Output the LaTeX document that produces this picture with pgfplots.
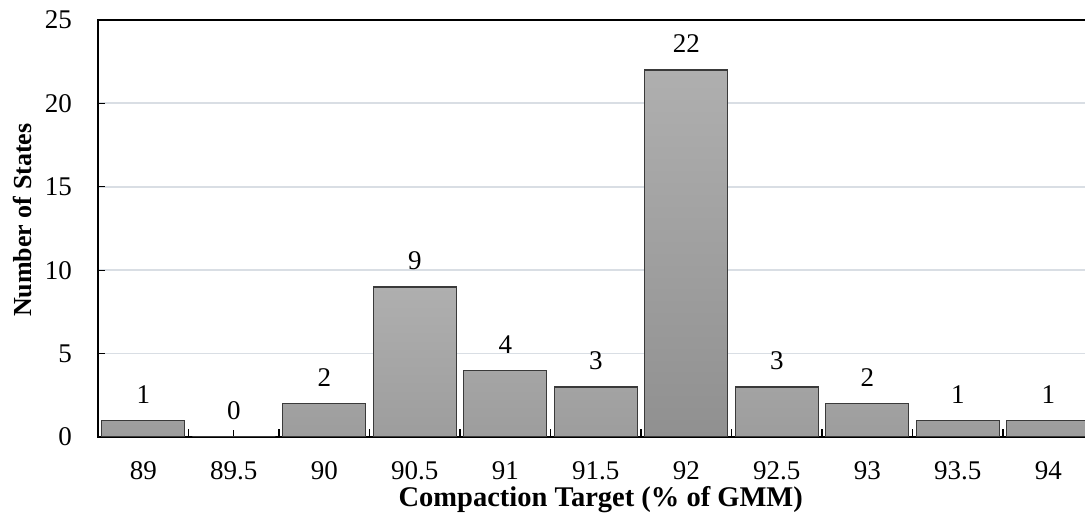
\documentclass[border=0pt]{standalone}
\usepackage{fontspec}
\setmainfont{Liberation Serif}
\usepackage{pgfplots}
\pgfplotsset{compat=1.18}

\definecolor{gridc}{HTML}{D9DEE4}
\definecolor{barT}{HTML}{AFAFAF}
\definecolor{barB}{HTML}{9D9D9D}
\definecolor{tallB}{HTML}{909090}
\definecolor{barline}{HTML}{3A3A3A}

% grid under the bars, ticks and axis lines over them
\pgfplotsset{
  layers/gridbelow/.define layer set={
    axis background,axis grid,main,axis ticks,axis lines,axis tick labels,axis descriptions,axis foreground
  }{},
}

\begin{document}
\begin{tikzpicture}
\begin{axis}[
  set layers=gridbelow,
  scale only axis, width=995.5pt, height=417pt,
  at={(0,0)}, anchor=south west,
  ybar, bar width=83pt, bar shift=0pt,
  xmin=-0.5, xmax=10.5, ymin=0, ymax=25,
  xtick={0,...,10},
  xticklabels={89,89.5,90,90.5,91,91.5,92,92.5,93,93.5,94},
  minor xtick={-0.5,0.5,...,10.5},
  ytick={0,5,...,25},
  xtick pos=bottom, ytick pos=left,
  tick align=inside, major tick length=7pt, minor tick length=8pt,
  every tick/.style={black, line width=1.3pt},
  ymajorgrids, major grid style={gridc, line width=1.8pt},
  axis line style={black, line width=2pt},
  /pgf/number format/assume math mode=true,
  tick label style={font=\fontsize{27}{32}\selectfont, inner sep=0pt},
  yticklabel style={anchor=east, xshift=-26pt},
  xticklabel style={anchor=north, yshift=-24pt},
  xlabel={Compaction Target (\% of GMM)},
  ylabel={Number of States},
  xlabel style={font=\bfseries\fontsize{28.5}{34}\selectfont,
    at={(axis description cs:0.5,0)}, anchor=center, xshift=5pt, yshift=-63pt},
  ylabel style={font=\bfseries\fontsize{26}{31}\selectfont,
    at={(axis description cs:0,0.52)}, anchor=center, yshift=75pt},
  nodes near coords,
  every node near coord/.append style={font=\fontsize{27}{32}\selectfont, anchor=center, yshift=26pt, inner sep=0pt, black},
]
\addplot[draw=barline, line width=1.3pt, top color=barT, bottom color=barB]
  coordinates {(0,1) (1,0) (2,2) (3,9) (4,4) (5,3) (7,3) (8,2) (9,1) (10,1)};
\addplot[draw=barline, line width=1.3pt, top color=barT, bottom color=tallB]
  coordinates {(6,22)};
\end{axis}
\pgfresetboundingbox
\path[use as bounding box] (-98pt,-84pt) rectangle (987pt,437pt);
\end{tikzpicture}
\end{document}
